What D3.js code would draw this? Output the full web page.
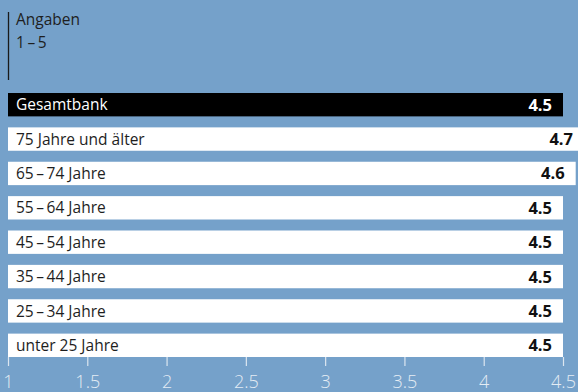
<!DOCTYPE html>
<html><head><meta charset="utf-8">
<script src="https://cdn.jsdelivr.net/npm/d3@7"></script>
<style>html,body{margin:0;padding:0;background:#75a1ca;}svg{display:block;}</style>
</head><body>
<script>
const categories = ["Gesamtbank","75 Jahre und älter","65\u2009–\u200974 Jahre","55\u2009–\u200964 Jahre","45\u2009–\u200954 Jahre","35\u2009–\u200944 Jahre","25\u2009–\u200934 Jahre","unter 25 Jahre"];
const values = [4.5, 4.7, 4.58, 4.5, 4.5, 4.5, 4.5, 4.5];
const tickValues = [1, 1.5, 2, 2.5, 3, 3.5, 4, 4.5];
const headerLines = ["Angaben", "1\u2009–\u20095"];

const W = 578, H = 392;
const svg = d3.select("body").append("svg").attr("width", W).attr("height", H);
svg.append("rect").attr("width", W).attr("height", H).attr("fill", "#75a1ca");

const font = "'Open Sans', 'Noto Sans', sans-serif";
const x = d3.scaleLinear().domain([1, 4.5]).range([8, 563]);
const y = d3.scaleBand().domain(categories).range([93, 357]).paddingInner(0.32).paddingOuter(0);

// header
svg.append("line").attr("x1", 8.5).attr("x2", 8.5).attr("y1", 12).attr("y2", 80)
  .attr("stroke", "#1a1a1a").attr("stroke-width", 1.3);
svg.selectAll("text.hdr").data(headerLines).join("text").attr("class","hdr")
  .attr("x", 16).attr("y", (d,i) => 25 + i*23)
  .attr("font-family", font).attr("font-size", 15.5).attr("fill", "#1e1e1e").text(d => d);

// axis
const axis = d3.axisBottom(x).tickValues(tickValues).tickSize(9).tickPadding(3).tickFormat(d3.format("~g"));
const gA = svg.append("g").attr("transform", "translate(0,357)").call(axis);
gA.select(".domain").remove();
gA.selectAll(".tick line").attr("stroke", "#dce6f0").attr("stroke-width", 1.2);
gA.selectAll(".tick text").attr("font-family", font).attr("font-size", 18).attr("font-weight", 300)
  .attr("fill", "#e4ecf4").attr("dy", "1.05em");

// bars
const g = svg.append("g");
const rows = g.selectAll("g.row").data(categories.map((c,i)=>({c, v: values[i], i}))).join("g").attr("class","row");
rows.append("rect").attr("x", x(1)).attr("y", d => y(d.c)).attr("height", y.bandwidth())
  .attr("width", d => x(d.v) - x(1)).attr("fill", d => d.i === 0 ? "#000" : "#fff");
rows.append("text").attr("x", 16).attr("y", d => y(d.c) + y.bandwidth()/2).attr("dy", "0.36em")
  .attr("font-family", font).attr("font-size", 15.5).attr("fill", d => d.i === 0 ? "#fff" : "#1e1e1e").text(d => d.c);
rows.append("text").attr("x", d => Math.min(x(d.v) - 11, W - 5)).attr("y", d => y(d.c) + y.bandwidth()/2).attr("dy", "0.36em")
  .attr("text-anchor", "end").attr("font-family", font).attr("font-size", 16.5).attr("font-weight", 700)
  .attr("fill", d => d.i === 0 ? "#fff" : "#111").text(d => d3.format(".1f")(d.v));
</script>
</body></html>
